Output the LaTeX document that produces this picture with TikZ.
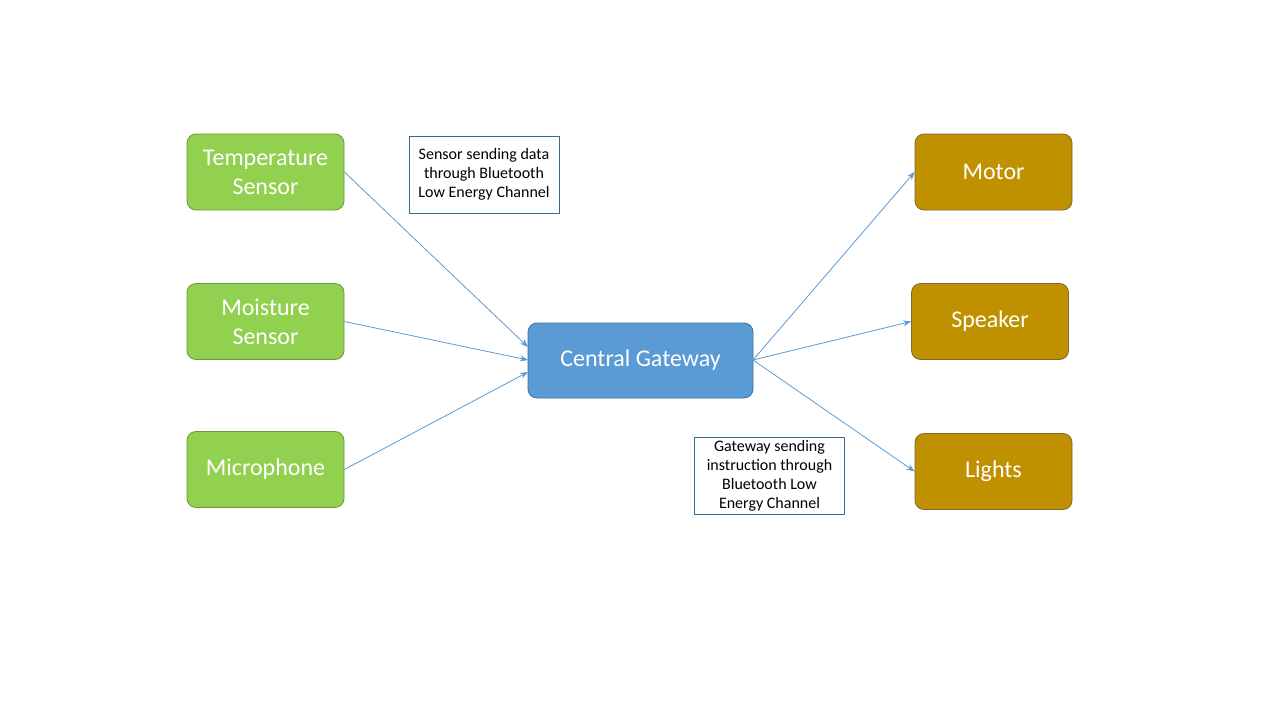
\documentclass[tikz,border=0pt]{standalone}
\usepackage{fontspec}
\setmainfont{Carlito}
\usetikzlibrary{arrows.meta}
\definecolor{sgreen}{HTML}{92D050}
\definecolor{sgreenb}{HTML}{6A9A3A}
\definecolor{gblue}{HTML}{5B9BD5}
\definecolor{gblueb}{HTML}{41719C}
\definecolor{agold}{HTML}{BF9000}
\definecolor{agoldb}{HTML}{7F6A2A}
\definecolor{tboxb}{HTML}{31708F}
\begin{document}
\begin{tikzpicture}[x=1pt,y=-1pt,
  box/.style={rounded corners=9pt, line width=0.8pt, minimum width=157pt, minimum height=76pt, align=center, text=white, font=\fontsize{24}{29}\selectfont, inner sep=0pt},
  sensor/.style={box, fill=sgreen, draw=sgreenb},
  actor/.style={box, fill=agold, draw=agoldb},
  hub/.style={box, fill=gblue, draw=gblueb, minimum width=225pt, minimum height=75pt},
  note/.style={draw=tboxb, line width=0.6pt, fill=white, align=center, font=\fontsize{16}{19}\selectfont, inner sep=0pt, minimum width=150pt, minimum height=77pt},
  link/.style={draw=gblue, line width=0.8pt, -{Stealth[length=8pt,width=6pt]}}]
\useasboundingbox (0,0) rectangle (1280,720);
\fill[white] (0,0) rectangle (1280,720);
\node[sensor] (temp) at (265.5,172) {Temperature\\Sensor};
\node[sensor] (moist) at (265.5,321.5) {Moisture\\Sensor};
\node[sensor] (mic) at (265.5,469.5) {Microphone};
\node[hub] (gw) at (640.5,360.5) {Central Gateway};
\node[actor] (motor) at (993.5,172) {Motor};
\node[actor] (speaker) at (990,321.5) {Speaker};
\node[actor] (lights) at (993.5,471.5) {Lights};
\node[note] (n1) at (484,174.5) {Sensor sending data\\through Bluetooth\\Low Energy Channel};
\node[note] (n2) at (769.5,476) {Gateway sending\\instruction through\\Bluetooth Low\\Energy Channel};
\coordinate (gwl1) at (528,347);
\coordinate (gwl2) at (528,360);
\coordinate (gwl3) at (528,372);
\coordinate (gwr) at (753,360);
\draw[link] (temp.east) -- (gwl1);
\draw[link] (moist.east) -- (gwl2);
\draw[link] (mic.east) -- (gwl3);
\draw[link] (gwr) -- (motor.west);
\draw[link] (gwr) -- (speaker.west);
\draw[link] (gwr) -- (lights.west);
\end{tikzpicture}
\end{document}
